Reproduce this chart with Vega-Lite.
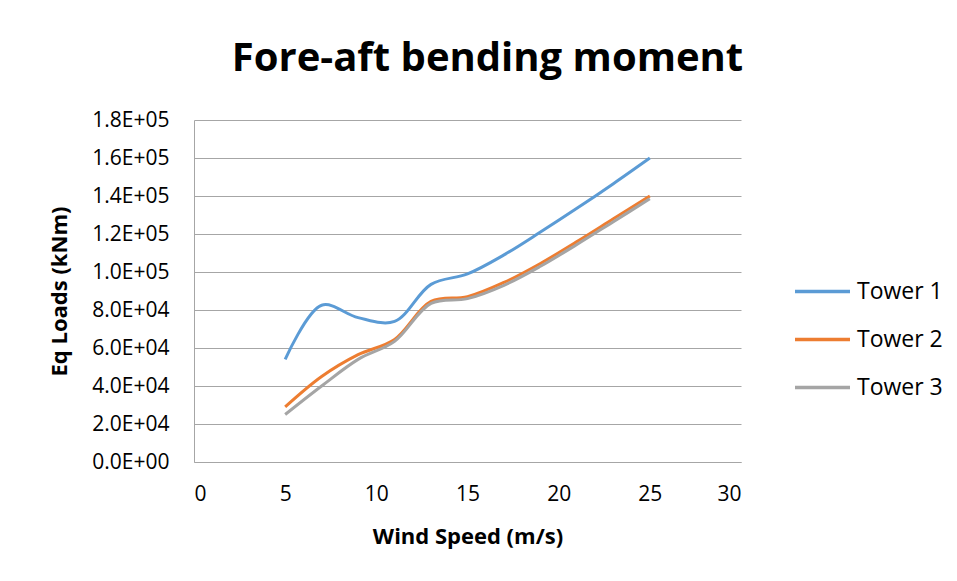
{
  "$schema": "https://vega.github.io/schema/vega-lite/v6.json",
  "width": 547,
  "height": 342,
  "autosize": {"type": "none"},
  "padding": {"left": 194, "top": 120, "right": 216, "bottom": 119},
  "background": "white",
  "title": {
    "text": "Fore-aft bending moment",
    "font": "Open Sans",
    "fontSize": 40,
    "fontWeight": "bold",
    "color": "#000000",
    "anchor": "middle",
    "dx": 20,
    "offset": 30
  },
  "data": {
    "values": [
      {"ws": 5, "load": 54000, "tower": "Tower 1"},
      {"ws": 7, "load": 82500, "tower": "Tower 1"},
      {"ws": 9, "load": 76000, "tower": "Tower 1"},
      {"ws": 11, "load": 74000, "tower": "Tower 1"},
      {"ws": 13, "load": 93500, "tower": "Tower 1"},
      {"ws": 15, "load": 99000, "tower": "Tower 1"},
      {"ws": 17, "load": 109000, "tower": "Tower 1"},
      {"ws": 19, "load": 121000, "tower": "Tower 1"},
      {"ws": 21, "load": 133500, "tower": "Tower 1"},
      {"ws": 23, "load": 146500, "tower": "Tower 1"},
      {"ws": 25, "load": 160000, "tower": "Tower 1"},
      {"ws": 5, "load": 29000, "tower": "Tower 2"},
      {"ws": 7, "load": 45000, "tower": "Tower 2"},
      {"ws": 9, "load": 56500, "tower": "Tower 2"},
      {"ws": 11, "load": 64500, "tower": "Tower 2"},
      {"ws": 13, "load": 84500, "tower": "Tower 2"},
      {"ws": 15, "load": 87000, "tower": "Tower 2"},
      {"ws": 17, "load": 94500, "tower": "Tower 2"},
      {"ws": 19, "load": 104500, "tower": "Tower 2"},
      {"ws": 21, "load": 116000, "tower": "Tower 2"},
      {"ws": 23, "load": 128000, "tower": "Tower 2"},
      {"ws": 25, "load": 140000, "tower": "Tower 2"},
      {"ws": 5, "load": 25000, "tower": "Tower 3"},
      {"ws": 7, "load": 40000, "tower": "Tower 3"},
      {"ws": 9, "load": 54000, "tower": "Tower 3"},
      {"ws": 11, "load": 63500, "tower": "Tower 3"},
      {"ws": 13, "load": 83500, "tower": "Tower 3"},
      {"ws": 15, "load": 86000, "tower": "Tower 3"},
      {"ws": 17, "load": 93000, "tower": "Tower 3"},
      {"ws": 19, "load": 103000, "tower": "Tower 3"},
      {"ws": 21, "load": 114500, "tower": "Tower 3"},
      {"ws": 23, "load": 126500, "tower": "Tower 3"},
      {"ws": 25, "load": 138500, "tower": "Tower 3"}
    ]
  },
  "mark": {"type": "line", "interpolate": "catmull-rom", "strokeWidth": 3},
  "encoding": {
    "x": {
      "field": "ws",
      "type": "quantitative",
      "scale": {"domain": [0, 30], "nice": false},
      "axis": {
        "title": "Wind Speed (m/s)",
        "values": [0, 5, 10, 15, 20, 25, 30],
        "grid": false,
        "ticks": false,
        "domainColor": "#A6A6A6",
        "labelPadding": 21,
        "titlePadding": 22
      }
    },
    "y": {
      "field": "load",
      "type": "quantitative",
      "scale": {"domain": [0, 180000], "nice": false},
      "axis": {
        "title": "Eq Loads (kNm)",
        "values": [0, 20000, 40000, 60000, 80000, 100000, 120000, 140000, 160000, 180000],
        "labelExpr": "datum.value == 0 ? '0.0E+00' : (datum.value >= 100000 ? format(datum.value/100000, '.1f') + 'E+05' : format(datum.value/10000, '.1f') + 'E+04')",
        "grid": true,
        "gridColor": "#A6A6A6",
        "ticks": false,
        "domainColor": "#A6A6A6",
        "labelPadding": 25,
        "titlePadding": 20
      }
    },
    "color": {
      "field": "tower",
      "type": "nominal",
      "scale": {"domain": ["Tower 1", "Tower 2", "Tower 3"], "range": ["#5B9BD5", "#ED7D31", "#A5A5A5"]},
      "legend": {
        "title": null,
        "orient": "none",
        "legendX": 599,
        "legendY": 142,
        "symbolType": "stroke",
        "symbolStrokeWidth": 3.5,
        "symbolSize": 3025,
        "labelFontSize": 23,
        "labelFont": "Open Sans",
        "labelColor": "#000000",
        "labelOffset": 5,
        "rowPadding": 6
      }
    }
  },
  "config": {
    "view": {"stroke": null},
    "axis": {
      "labelFont": "Open Sans",
      "labelFontSize": 21,
      "labelColor": "#000000",
      "titleFont": "Open Sans",
      "titleFontSize": 22,
      "titleFontWeight": "bold",
      "titleColor": "#000000"
    }
  }
}
